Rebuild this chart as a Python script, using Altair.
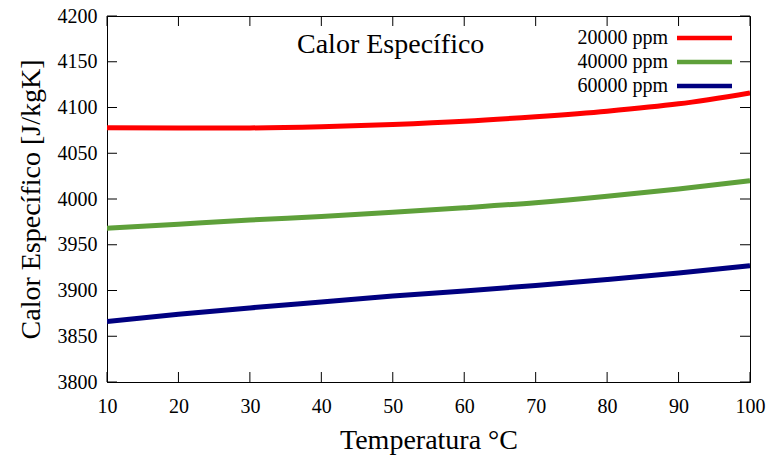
import altair as alt
import pandas as pd

# Specific heat of saline water vs temperature for three concentrations
temperatura = [10, 20, 30, 40, 50, 60, 70, 80, 90, 100]
cp_20000 = [4078.0, 4077.5, 4077.7, 4079.0, 4081.5, 4085.0, 4090.0, 4096.0, 4104.0, 4116.0]
cp_40000 = [3968.0, 3972.5, 3977.0, 3981.0, 3985.5, 3990.5, 3996.0, 4003.0, 4011.0, 4020.0]
cp_60000 = [3866.0, 3874.0, 3881.0, 3887.5, 3894.0, 3899.5, 3905.5, 3912.0, 3919.0, 3927.0]

series = ["20000 ppm", "40000 ppm", "60000 ppm"]
colores = ["#ff0000", "#5ea03a", "#000080"]

x_ticks = [10, 20, 30, 40, 50, 60, 70, 80, 90, 100]
y_ticks = [3800, 3850, 3900, 3950, 4000, 4050, 4100, 4150, 4200]

titulo = "Calor Específico"
x_titulo = "Temperatura °C"
y_titulo = "Calor Específico [J/kgK]"

W, H = 643, 366
FONT = "Liberation Serif"

rows = []
for name, vals in zip(series, [cp_20000, cp_40000, cp_60000]):
    for t, v in zip(temperatura, vals):
        rows.append({"T": t, "cp": v, "serie": name})
df = pd.DataFrame(rows)

x_scale = alt.Scale(domain=[10, 100], nice=False, zero=False)
y_scale = alt.Scale(domain=[3800, 4200], nice=False, zero=False)
color_scale = alt.Scale(domain=series, range=colores)

lines = alt.Chart(df).mark_line(strokeWidth=5, interpolate="monotone", clip=True).encode(
    x=alt.X("T:Q", scale=x_scale, axis=alt.Axis(
        values=x_ticks, title=x_titulo, ticks=False, labelPadding=14, titlePadding=10,
        grid=False, labelFont=FONT, labelFontSize=20, labelFlush=False,
        titleFont=FONT, titleFontSize=28, format="d")),
    y=alt.Y("cp:Q", scale=y_scale, axis=alt.Axis(
        values=y_ticks, title=y_titulo, ticks=False, labelPadding=10, titlePadding=12,
        grid=False, labelFont=FONT, labelFontSize=20, labelFlush=False,
        titleFont=FONT, titleFontSize=28, format="d")),
    color=alt.Color("serie:N", scale=color_scale, legend=None),
)

# inward ticks on all four sides
xt = pd.DataFrame({"v": x_ticks})
yt = pd.DataFrame({"v": y_ticks})
xtick_bottom = alt.Chart(xt).mark_rule(color="black", strokeWidth=1).encode(
    x=alt.X("v:Q", scale=x_scale), y=alt.value(H), y2=alt.value(H - 10))
xtick_top = alt.Chart(xt).mark_rule(color="black", strokeWidth=1).encode(
    x=alt.X("v:Q", scale=x_scale), y=alt.value(0), y2=alt.value(10))
ytick_left = alt.Chart(yt).mark_rule(color="black", strokeWidth=1).encode(
    y=alt.Y("v:Q", scale=y_scale, axis=None), x=alt.value(0), x2=alt.value(10))
ytick_right = alt.Chart(yt).mark_rule(color="black", strokeWidth=1).encode(
    y=alt.Y("v:Q", scale=y_scale, axis=None), x=alt.value(W - 10), x2=alt.value(W))

# title inside the plot
tdf = pd.DataFrame({"t": [titulo]})
title_mark = alt.Chart(tdf).mark_text(
    font=FONT, fontSize=28, align="left", baseline="alphabetic", color="black"
).encode(text="t:N", x=alt.value(190), y=alt.value(37))

# key: label on the left, line sample on the right
ldf = pd.DataFrame({"serie": series})
key_y = alt.Y("serie:N", scale=alt.Scale(type="point", domain=series, range=[22, 70], padding=0), axis=None)
key_text = alt.Chart(ldf).mark_text(
    font=FONT, fontSize=20, align="right", baseline="middle", color="black"
).encode(text="serie:N", y=key_y, x=alt.value(561))
key_line = alt.Chart(ldf).mark_rule(strokeWidth=4.5).encode(
    y=key_y, x=alt.value(570), x2=alt.value(625),
    color=alt.Color("serie:N", scale=color_scale, legend=None))

chart = alt.layer(
    lines, xtick_bottom, xtick_top, ytick_left, ytick_right, title_mark, key_text, key_line
).resolve_scale(y="independent").properties(
    width=W, height=H,
    autosize=alt.AutoSizeParams(type="none"),
    padding={"left": 107, "top": 16, "right": 18, "bottom": 78},
).configure_view(
    stroke="black", strokeWidth=1
).configure_axis(
    labelFont=FONT, titleFont=FONT, labelColor="black", titleColor="black",
    domainColor="black", domainWidth=1, titleFontWeight="normal",
)

chart.save("out.html", embed_options={"renderer": "svg", "actions": False})
